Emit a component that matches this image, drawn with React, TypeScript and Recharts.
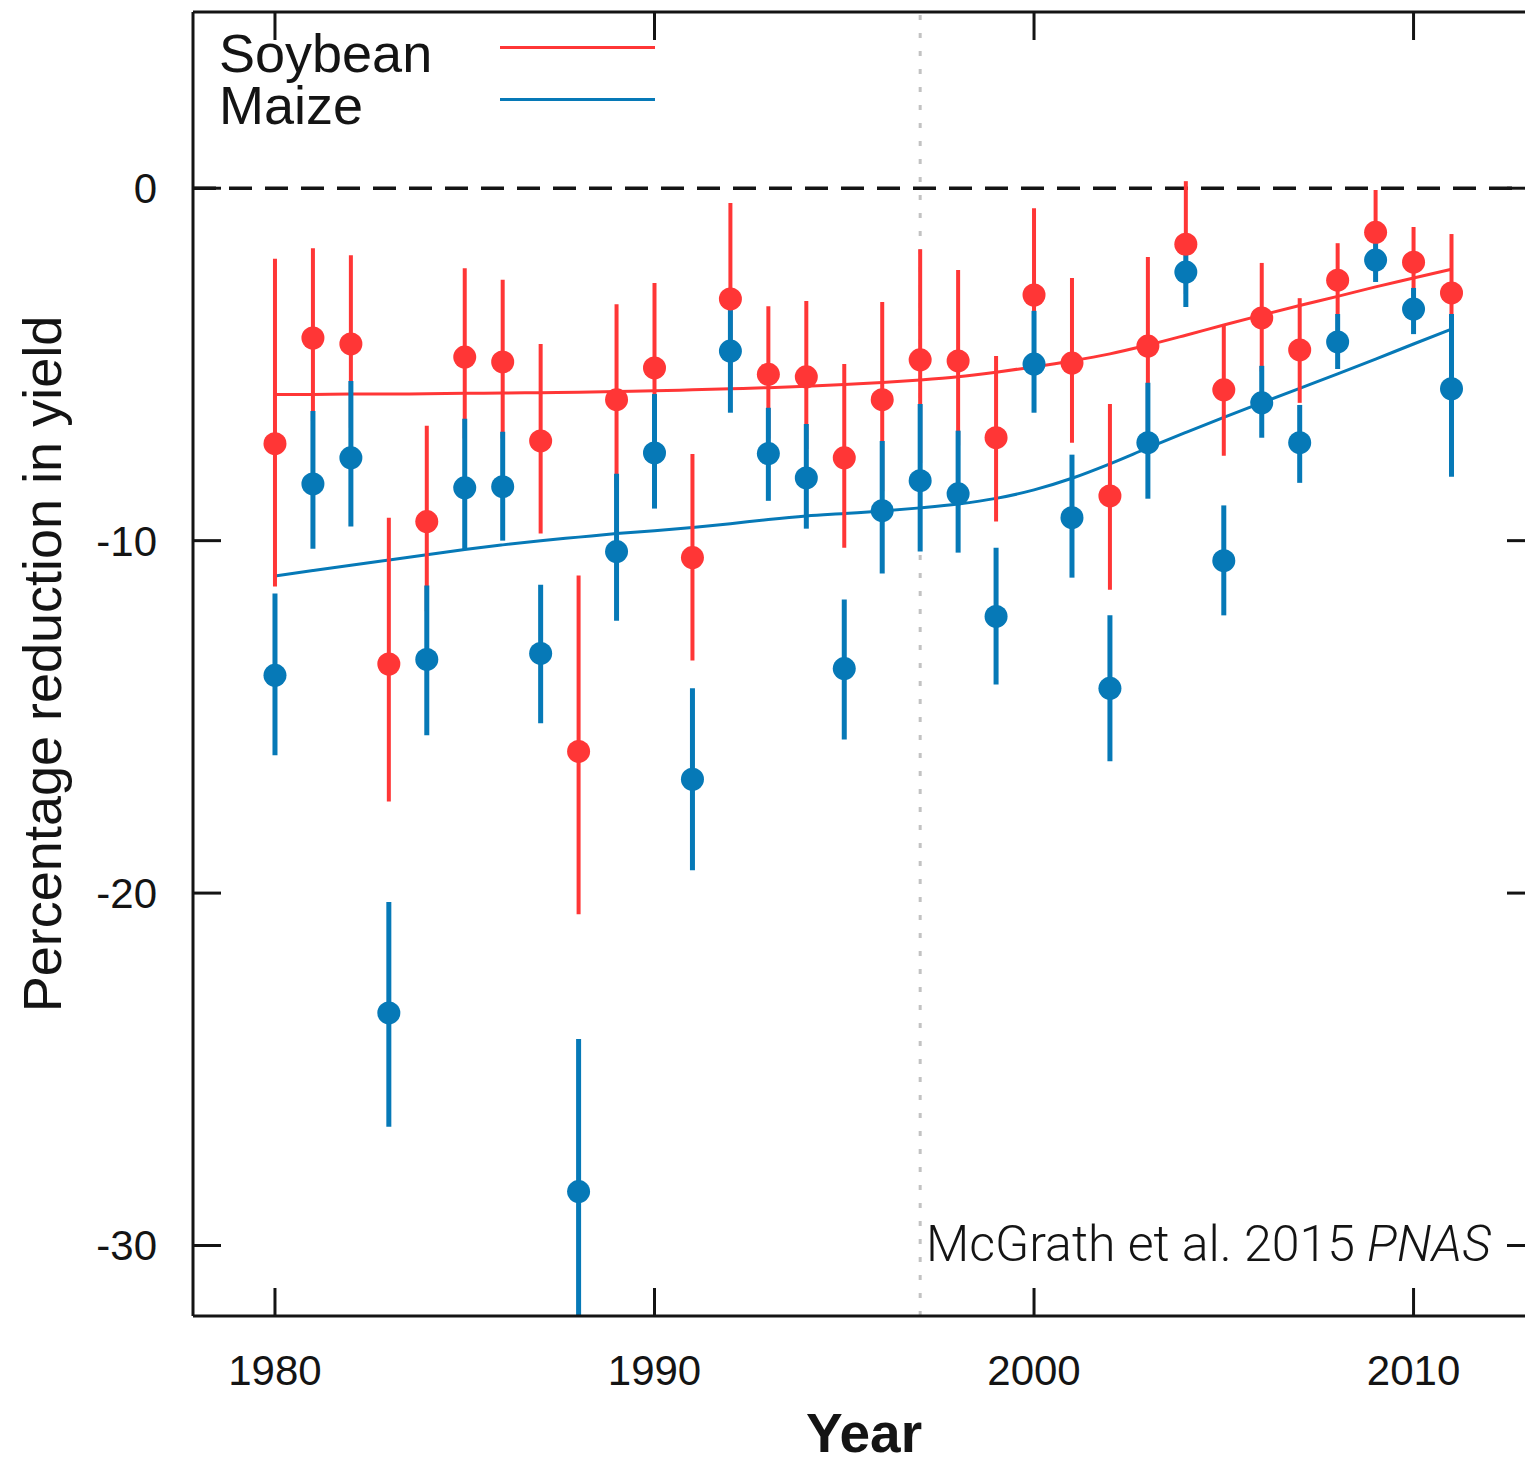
import React from 'react'
import {
  ComposedChart,
  Line,
  Scatter,
  ErrorBar,
  XAxis,
  YAxis,
  ReferenceLine,
  Legend,
  Label,
} from 'recharts'

// values (percent yield reduction per year)
const years = [
  1980, 1981, 1982, 1983, 1984, 1985, 1986, 1987, 1988, 1989, 1990, 1991, 1992, 1993, 1994, 1995,
  1996, 1997, 1998, 1999, 2000, 2001, 2002, 2003, 2004, 2005, 2006, 2007, 2008, 2009, 2010, 2011,
]

const soyYield = [
  -7.25, -4.25, -4.42, -13.5, -9.46, -4.79, -4.93, -7.17, -15.98, -6.0, -5.1, -10.48, -3.14, -5.28, -5.35, -7.65,
  -6.0, -4.87, -4.9, -7.08, -3.03, -4.96, -8.73, -4.48, -1.59, -5.72, -3.68, -4.59, -2.61, -1.25, -2.1, -2.97,
]
const soyHigh = [
  -2.0, -1.7, -1.9, -9.35, -6.74, -2.27, -2.6, -4.42, -10.99, -3.29, -2.69, -7.54, -0.42, -3.35, -3.2, -4.99,
  -3.23, -1.73, -2.32, -4.76, -0.57, -2.55, -6.12, -1.95, 0.2, -3.91, -2.12, -3.12, -1.56, -0.05, -1.1, -1.3,
]
const soyLow = [
  -11.3, -6.6, -6.8, -17.4, -12.0, -7.1, -7.1, -9.8, -20.6, -8.5, -7.3, -13.4, -5.6, -7.1, -7.4, -10.2,
  -8.6, -7.8, -7.3, -9.46, -5.3, -7.22, -11.39, -6.9, -3.0, -7.59, -5.2, -6.09, -3.6, -2.4, -3.1, -4.6,
]

const maizeYield = [
  -13.82, -8.39, -7.65, -23.4, -13.37, -8.5, -8.47, -13.2, -28.47, -10.31, -7.51, -16.77, -4.62, -7.53, -8.22, -13.63,
  -9.15, -8.3, -8.67, -12.15, -4.99, -9.35, -14.19, -7.22, -2.38, -10.57, -6.09, -7.22, -4.36, -2.04, -3.43, -5.69,
]
const maizeHigh = [
  -11.5, -6.32, -5.47, -20.25, -11.27, -6.54, -6.91, -11.25, -24.14, -8.1, -5.84, -14.19, -2.83, -6.23, -6.69, -11.67,
  -7.17, -6.12, -6.88, -10.2, -3.48, -7.56, -12.12, -5.52, -1.87, -9.0, -5.04, -6.15, -3.57, -1.5, -2.83, -3.57,
]
const maizeLow = [
  -16.09, -10.23, -9.6, -26.63, -15.52, -10.26, -10.0, -15.18, -31.98, -12.27, -9.09, -19.35, -6.37, -8.87, -9.66, -15.64,
  -10.93, -10.31, -10.34, -14.08, -6.37, -11.05, -16.26, -8.81, -3.37, -12.12, -7.08, -8.36, -5.13, -2.66, -4.14, -8.19,
]

// fitted trend curves
const soyTrend = [
  -5.85, -5.85, -5.84, -5.84, -5.83, -5.82, -5.81, -5.8, -5.79, -5.77, -5.75, -5.72, -5.69, -5.66, -5.62, -5.57,
  -5.51, -5.44, -5.35, -5.22, -5.07, -4.9, -4.7, -4.45, -4.17, -3.88, -3.6, -3.33, -3.07, -2.8, -2.55, -2.3,
]
const maizeTrend = [
  -11.0, -10.85, -10.7, -10.55, -10.4, -10.25, -10.12, -10.0, -9.9, -9.8, -9.72, -9.63, -9.52, -9.4, -9.3, -9.23,
  -9.16, -9.07, -8.96, -8.8, -8.56, -8.23, -7.82, -7.37, -6.93, -6.5, -6.09, -5.68, -5.27, -4.85, -4.42, -4.0,
]

const xTicks = [1980, 1990, 2000, 2010]
const yTicks = [0, -10, -20, -30]

const RED = '#ff3636'
const BLUE = '#0679b7'
const INK = '#141414'
const FONT = '"Liberation Sans", Arial, Helvetica, sans-serif'

const legendItems = [
  { name: 'Soybean', color: RED },
  { name: 'Maize', color: BLUE },
]

const data = years.map((year, i) => ({
  year,
  soy: soyYield[i],
  soyErr: [soyYield[i] - soyLow[i], soyHigh[i] - soyYield[i]],
  maize: maizeYield[i],
  maizeErr: [maizeYield[i] - maizeLow[i], maizeHigh[i] - maizeYield[i]],
  soyTrend: soyTrend[i],
  maizeTrend: maizeTrend[i],
}))

const noMark = () => <g />
const dotOf = (color: string) => (p: any) => <circle cx={p.cx} cy={p.cy} r={11.5} fill={color} />

const LegendBox = () => (
  <div style={{ fontFamily: FONT, fontSize: 54, lineHeight: '52px', color: INK }}>
    {legendItems.map((item) => (
      <div key={item.name} style={{ position: 'relative', height: 52 }}>
        <span>{item.name}</span>
        <span
          style={{ position: 'absolute', left: 281, top: 19, width: 155, height: 3, background: item.color }}
        />
      </div>
    ))}
  </div>
)

const YTitle = ({ viewBox }: any) => (
  <text
    transform={`translate(53, ${viewBox.y + viewBox.height / 2}) rotate(-90)`}
    textAnchor="middle"
    fontFamily={FONT}
    fontSize={54}
    fill={INK}
  >
    Percentage reduction in yield
  </text>
)

const XTitle = ({ viewBox }: any) => (
  <text
    x={viewBox.x + viewBox.width / 2}
    y={viewBox.y + 136}
    textAnchor="middle"
    fontFamily={FONT}
    fontSize={55}
    fontWeight="bold"
    fill={INK}
  >
    Year
  </text>
)

const axisLine = { stroke: INK, strokeWidth: 3 }
const tickText = { fill: INK, fontSize: 42, fontFamily: FONT }

export default function App() {
  return (
    <div
      style={{
        position: 'absolute',
        left: 8,
        top: 8,
        width: 1517,
        height: 1456,
        overflow: 'hidden',
        background: '#fff',
      }}
    >
      <ComposedChart width={1528} height={1456} data={data} margin={{ top: 3, right: 0, bottom: 0, left: 0 }}>
        <XAxis
          dataKey="year"
          type="number"
          domain={[1977.84, 2013.2]}
          allowDataOverflow
          ticks={xTicks}
          height={148}
          tickSize={-28}
          tickMargin={67}
          axisLine={axisLine}
          tickLine={axisLine}
          tick={tickText}
        >
          <Label content={XTitle} />
        </XAxis>
        <XAxis
          xAxisId="top"
          dataKey="year"
          orientation="top"
          type="number"
          domain={[1977.84, 2013.2]}
          allowDataOverflow
          ticks={xTicks}
          height={1}
          tickSize={-28}
          tick={noMark}
          axisLine={axisLine}
          tickLine={axisLine}
        />
        <YAxis
          type="number"
          domain={[-32, 5]}
          allowDataOverflow
          ticks={yTicks}
          width={185}
          tickSize={-28}
          tickMargin={64}
          axisLine={axisLine}
          tickLine={axisLine}
          tick={tickText}
        >
          <Label content={YTitle} />
        </YAxis>
        <YAxis
          yAxisId="right"
          orientation="right"
          type="number"
          domain={[-32, 5]}
          allowDataOverflow
          ticks={yTicks}
          width={1}
          tickSize={-28}
          tick={noMark}
          axisLine={axisLine}
          tickLine={axisLine}
        />

        <ReferenceLine x={1997} stroke="#c2c2c2" strokeWidth={3} strokeDasharray="5 13" />
        <ReferenceLine y={0} stroke={INK} strokeWidth={3.5} strokeDasharray="23 13" />

        {/* invisible series so the framing top/right axes are drawn */}
        <Line
          xAxisId="top"
          yAxisId="right"
          dataKey="soyTrend"
          stroke="none"
          dot={false}
          activeDot={false}
          legendType="none"
          isAnimationActive={false}
        />

        <Line dataKey="soyTrend" type="monotone" stroke={RED} strokeWidth={3} dot={false} activeDot={false} isAnimationActive={false} />
        <Line dataKey="maizeTrend" type="monotone" stroke={BLUE} strokeWidth={3} dot={false} activeDot={false} isAnimationActive={false} />

        <Scatter data={data} dataKey="soy" shape={noMark} isAnimationActive={false}>
          <ErrorBar dataKey="soyErr" direction="y" width={0} stroke={RED} strokeWidth={4} />
        </Scatter>
        <Scatter data={data} dataKey="maize" shape={noMark} isAnimationActive={false}>
          <ErrorBar dataKey="maizeErr" direction="y" width={0} stroke={BLUE} strokeWidth={5} />
        </Scatter>
        <Scatter data={data} dataKey="soy" shape={dotOf(RED)} isAnimationActive={false} />
        <Scatter data={data} dataKey="maize" shape={dotOf(BLUE)} isAnimationActive={false} />

        <Legend
          content={LegendBox}
          layout="horizontal"
          verticalAlign="middle"
          wrapperStyle={{ left: 211, top: 19, width: 500 }}
        />
      </ComposedChart>
      <div
        style={{
          position: 'absolute',
          left: 918,
          top: 1211,
          fontFamily: 'Roboto, "Liberation Sans", sans-serif',
          fontWeight: 300,
          fontSize: 50,
          lineHeight: '50px',
          color: INK,
          whiteSpace: 'nowrap',
        }}
      >
        McGrath et al. 2015 <i>PNAS</i>
      </div>
    </div>
  )
}
